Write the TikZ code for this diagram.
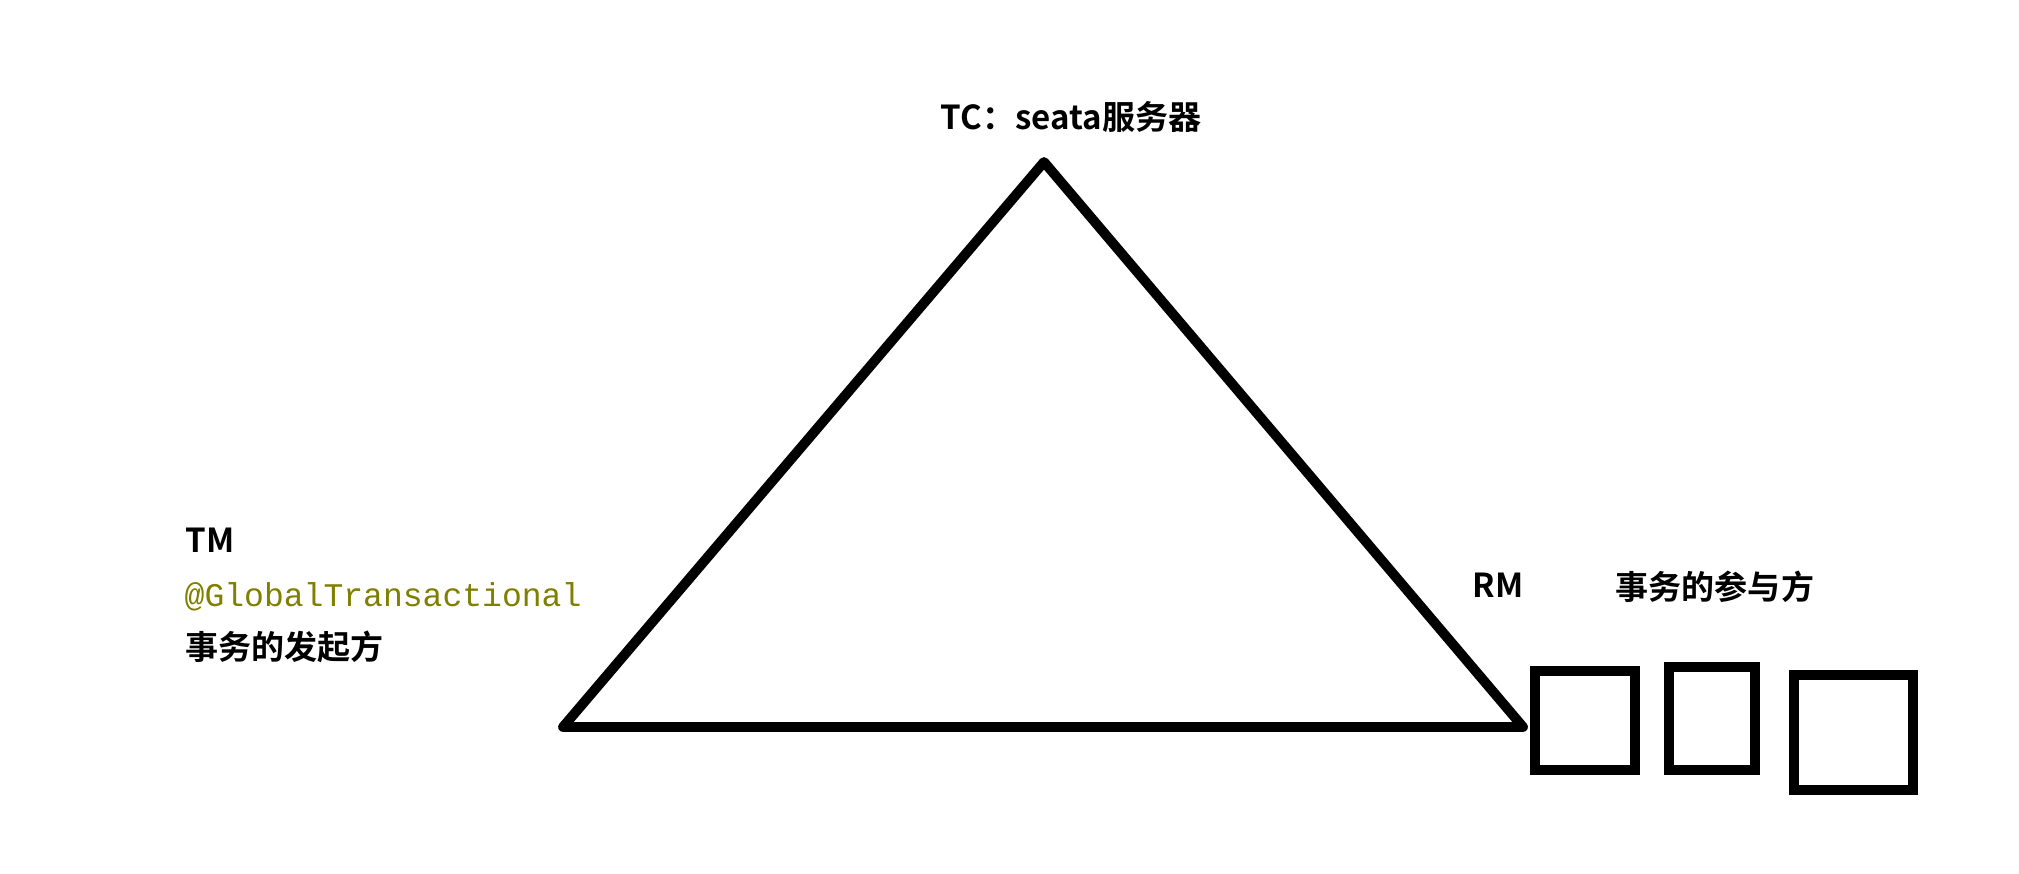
\documentclass[tikz,border=0pt]{standalone}
\usepackage{fontspec}
\setmainfont{Noto Sans CJK SC}[BoldFont={* Bold}]
\newfontfamily\cjkbold{Noto Sans CJK SC Bold}
\newfontfamily\codefont{Liberation Mono}
\definecolor{annot}{RGB}{128,128,0}

\begin{document}
\begin{tikzpicture}[x=0.01cm, y=-0.01cm,
  lbl/.style={anchor=base west, inner sep=0pt, font=\cjkbold\fontsize{9.4}{11}\selectfont},
  code/.style={anchor=base west, inner sep=0pt, text=annot, font=\codefont\fontsize{9.4}{11}\selectfont},
  rmbox/.style={draw, line width=2.85pt, inner sep=0pt}]

\useasboundingbox (0,0) rectangle (2019,874);

% triangle
\coordinate (tcpt) at (1044,162);
\coordinate (tmpt) at (563,727);
\coordinate (rmpt) at (1523,727);
\draw[line width=2.8pt, line join=round, line cap=round] (tcpt) -- (tmpt) -- (rmpt) -- cycle;

\node[lbl, anchor=base] (tc) at (1071,130) {TC：seata服务器};

\node[lbl] (tm) at (185,553) {TM};
\node[code] (anno) at (184,607) {@GlobalTransactional};
\node[lbl] (starter) at (185,660) {事务的发起方};

\node[lbl] (rm) at (1472,598) {RM};
\node[lbl] (part) at (1615,600) {事务的参与方};

% participants
\node[rmbox, minimum width=1cm, minimum height=0.99cm] (db1) at (1585,720.5) {};
\node[rmbox, minimum width=0.86cm, minimum height=1.03cm] (db2) at (1712,718.5) {};
\node[rmbox, minimum width=1.19cm, minimum height=1.15cm] (db3) at (1853.5,732.5) {};
\end{tikzpicture}
\end{document}
